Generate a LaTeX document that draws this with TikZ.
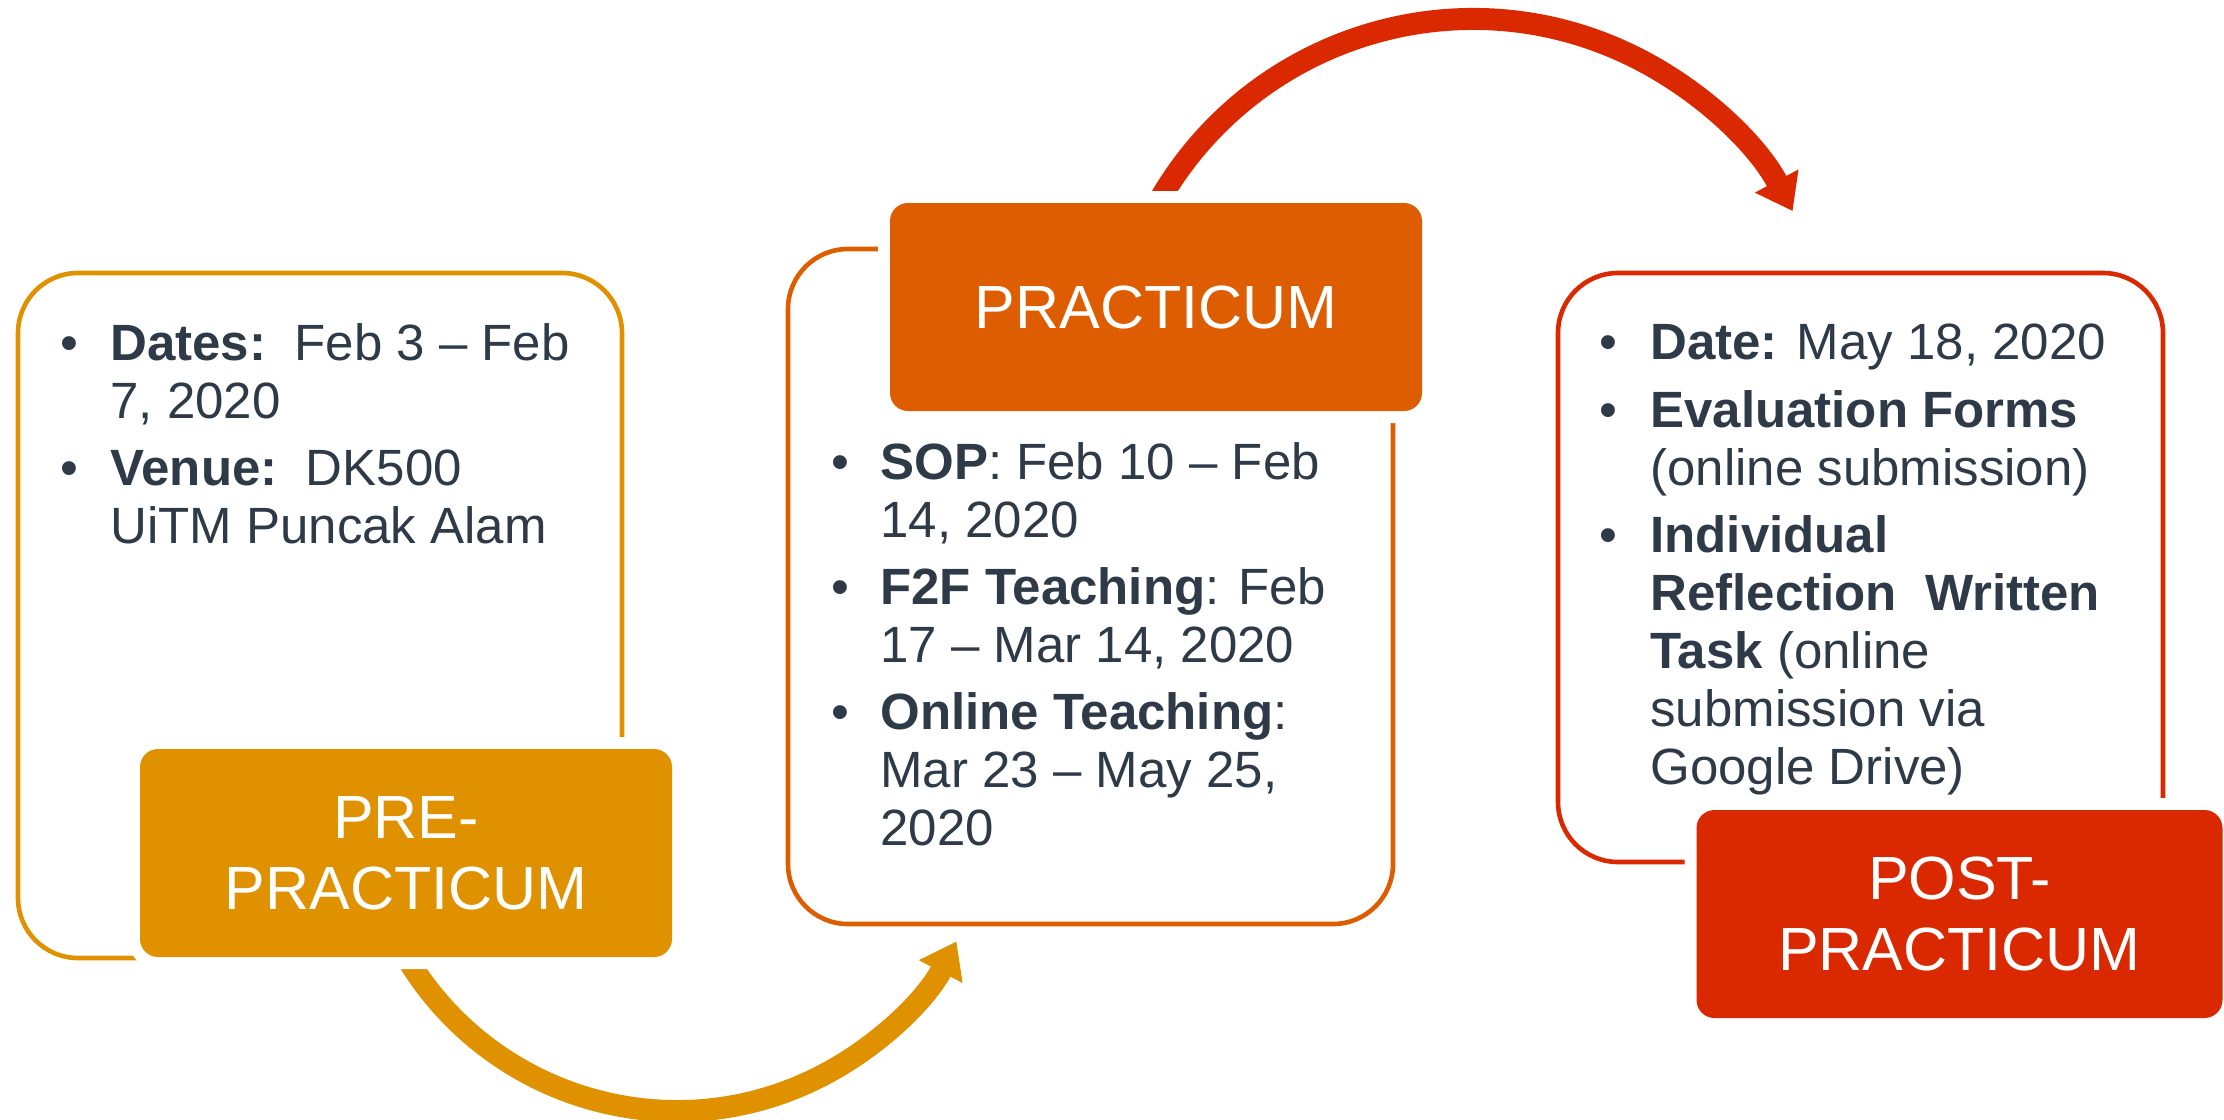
\documentclass[tikz,border=0pt]{standalone}
\usepackage{fontspec}
\setmainfont{Liberation Sans}
\usetikzlibrary{arrows.meta}
\definecolor{preC}{RGB}{224,145,0}
\definecolor{pracC}{RGB}{221,93,0}
\definecolor{postC}{RGB}{218,41,0}
\definecolor{txtC}{RGB}{46,58,71}
\begin{document}
\begin{tikzpicture}[x=0.5pt, y=-0.5pt,
  outl/.style={draw, rounded corners=30pt, line width=2.3pt, inner sep=0pt, outer sep=0pt},
  head/.style={fill=#1, rounded corners=9pt, text=white, inner sep=0pt, outer sep=0pt,
    align=center, font=\fontsize{30.5}{35.5}\selectfont,
    preaction={draw=white, line width=12pt}},
  ln/.style={anchor=base west, inner sep=0pt, text=txtC, font=\fontsize{25.5}{30}\selectfont},
  bul/.style={anchor=base, inner sep=0pt, text=txtC, font=\fontsize{25.5}{30}\selectfont},
  arr/.style={line width=11pt, -{Triangle[length=17pt, width=23.5pt]}},
]
\useasboundingbox (0,0) rectangle (2224,1120);

% arrows (behind everything)
\coordinate (c1) at (677,796);
\path (c1) ++(153:315) coordinate (s1);
\draw[arr, draw=preC] (s1) arc[start angle=153, end angle=27.5, radius=315];
\coordinate (c2) at (1473,381);
\path (c2) ++(-154:362) coordinate (s2);
\draw[arr, draw=postC] (s2) arc[start angle=-154, end angle=-28, radius=362];

% outline boxes
\node[outl, draw=preC, minimum width=302pt, minimum height=342.5pt] (o1) at (320,615.5) {};
\node[outl, draw=pracC, minimum width=302.5pt, minimum height=337.5pt] (o2) at (1090.5,586.5) {};
\node[outl, draw=postC, minimum width=302.5pt, minimum height=294.5pt] (o3) at (1860.5,567.5) {};

% heading boxes
\node[head=preC, minimum width=266pt, minimum height=104pt] (h1) at (406,853) {PRE-\\PRACTICUM};
\node[head=pracC, minimum width=266pt, minimum height=104pt] (h2) at (1156,307) {PRACTICUM};
\node[head=postC, minimum width=263pt, minimum height=104pt] (h3) at (1959.5,914) {POST-\\PRACTICUM};

% box 1 text
\node[bul] (p1a) at (69,360) {•};
\node[bul] (p1b) at (69,485) {•};
\node[ln] (t1a) at (110,360) {\textbf{Dates:}\ \ Feb 3 – Feb};
\node[ln] (t1b) at (110,418) {7, 2020};
\node[ln] (t1c) at (110,485) {\textbf{Venue:}\ \ DK500};
\node[ln] (t1d) at (110,543) {UiTM Puncak Alam};

% box 2 text
\node[bul] (p2a) at (840,479) {•};
\node[bul] (p2b) at (840,604) {•};
\node[bul] (p2c) at (840,729) {•};
\node[ln] (t2a) at (880,479) {\textbf{SOP}: Feb 10 – Feb};
\node[ln] (t2b) at (880,537) {14, 2020};
\node[ln] (t2c) at (880,604) {\textbf{F2F Teaching}: Feb};
\node[ln] (t2d) at (880,662) {17 – Mar 14, 2020};
\node[ln] (t2e) at (880,729) {\textbf{Online Teaching}:};
\node[ln] (t2f) at (880,787) {Mar 23 – May 25,};
\node[ln] (t2g) at (880,845) {2020};

% box 3 text
\node[bul] (p3a) at (1608,359) {•};
\node[bul] (p3b) at (1608,427) {•};
\node[bul] (p3c) at (1608,552) {•};
\node[ln] (t3a) at (1650,359) {\textbf{Date:} May 18, 2020};
\node[ln] (t3b) at (1650,427) {\textbf{Evaluation Forms}};
\node[ln] (t3c) at (1650,485) {(online submission)};
\node[ln] (t3d) at (1650,552) {\textbf{Individual}};
\node[ln] (t3e) at (1650,610) {\textbf{Reflection\ \ Written}};
\node[ln] (t3f) at (1650,668) {\textbf{Task} (online};
\node[ln] (t3g) at (1650,726) {submission via};
\node[ln] (t3h) at (1650,784) {Google Drive)};
\end{tikzpicture}
\end{document}
